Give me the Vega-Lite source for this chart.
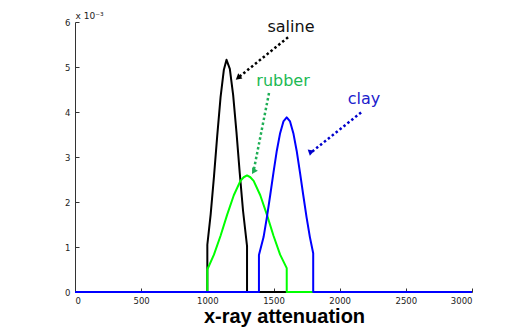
{
  "$schema": "https://vega.github.io/schema/vega-lite/v6.json",
  "width": 397,
  "height": 270,
  "autosize": {"type": "none"},
  "padding": {"left": 75, "top": 22, "right": 34, "bottom": 35},
  "background": "white",
  "config": {
    "view": {"stroke": null},
    "axis": {
      "grid": false,
      "labelFont": "DejaVu Sans",
      "labelFontSize": 8.5,
      "labelColor": "#222",
      "domainColor": "#333",
      "tickColor": "#333",
      "tickSize": -4,
      "domainWidth": 1
    }
  },
  "datasets": {
    "curves": [
      {"s": "saline", "i": 0, "x": 0, "y": 0},
      {"s": "saline", "i": 1, "x": 1000, "y": 0},
      {"s": "saline", "i": 2, "x": 1000, "y": 1.05},
      {"s": "saline", "i": 3, "x": 1025, "y": 1.72},
      {"s": "saline", "i": 4, "x": 1050, "y": 2.56},
      {"s": "saline", "i": 5, "x": 1075, "y": 3.48},
      {"s": "saline", "i": 6, "x": 1100, "y": 4.33},
      {"s": "saline", "i": 7, "x": 1125, "y": 4.94},
      {"s": "saline", "i": 8, "x": 1145, "y": 5.16},
      {"s": "saline", "i": 9, "x": 1170, "y": 4.96},
      {"s": "saline", "i": 10, "x": 1195, "y": 4.38},
      {"s": "saline", "i": 11, "x": 1220, "y": 3.56},
      {"s": "saline", "i": 12, "x": 1245, "y": 2.64},
      {"s": "saline", "i": 13, "x": 1270, "y": 1.80},
      {"s": "saline", "i": 14, "x": 1300, "y": 1.02},
      {"s": "saline", "i": 15, "x": 1300, "y": 0},
      {"s": "saline", "i": 16, "x": 3000, "y": 0},
      {"s": "rubber", "i": 0, "x": 0, "y": 0},
      {"s": "rubber", "i": 1, "x": 1000, "y": 0},
      {"s": "rubber", "i": 2, "x": 1000, "y": 0.50},
      {"s": "rubber", "i": 3, "x": 1050, "y": 0.83},
      {"s": "rubber", "i": 4, "x": 1100, "y": 1.25},
      {"s": "rubber", "i": 5, "x": 1150, "y": 1.72},
      {"s": "rubber", "i": 6, "x": 1200, "y": 2.15},
      {"s": "rubber", "i": 7, "x": 1250, "y": 2.47},
      {"s": "rubber", "i": 8, "x": 1275, "y": 2.55},
      {"s": "rubber", "i": 9, "x": 1300, "y": 2.59},
      {"s": "rubber", "i": 10, "x": 1325, "y": 2.55},
      {"s": "rubber", "i": 11, "x": 1350, "y": 2.47},
      {"s": "rubber", "i": 12, "x": 1400, "y": 2.15},
      {"s": "rubber", "i": 13, "x": 1450, "y": 1.72},
      {"s": "rubber", "i": 14, "x": 1500, "y": 1.25},
      {"s": "rubber", "i": 15, "x": 1550, "y": 0.83},
      {"s": "rubber", "i": 16, "x": 1600, "y": 0.53},
      {"s": "rubber", "i": 17, "x": 1600, "y": 0},
      {"s": "rubber", "i": 18, "x": 3000, "y": 0},
      {"s": "clay", "i": 0, "x": 0, "y": 0},
      {"s": "clay", "i": 1, "x": 1390, "y": 0},
      {"s": "clay", "i": 2, "x": 1390, "y": 0.82},
      {"s": "clay", "i": 3, "x": 1425, "y": 1.22},
      {"s": "clay", "i": 4, "x": 1450, "y": 1.66},
      {"s": "clay", "i": 5, "x": 1475, "y": 2.15},
      {"s": "clay", "i": 6, "x": 1500, "y": 2.66},
      {"s": "clay", "i": 7, "x": 1525, "y": 3.14},
      {"s": "clay", "i": 8, "x": 1550, "y": 3.53},
      {"s": "clay", "i": 9, "x": 1575, "y": 3.79},
      {"s": "clay", "i": 10, "x": 1600, "y": 3.88},
      {"s": "clay", "i": 11, "x": 1625, "y": 3.79},
      {"s": "clay", "i": 12, "x": 1650, "y": 3.53},
      {"s": "clay", "i": 13, "x": 1675, "y": 3.14},
      {"s": "clay", "i": 14, "x": 1700, "y": 2.66},
      {"s": "clay", "i": 15, "x": 1725, "y": 2.15},
      {"s": "clay", "i": 16, "x": 1750, "y": 1.66},
      {"s": "clay", "i": 17, "x": 1775, "y": 1.22},
      {"s": "clay", "i": 18, "x": 1800, "y": 0.86},
      {"s": "clay", "i": 19, "x": 1800, "y": 0},
      {"s": "clay", "i": 20, "x": 3000, "y": 0}
    ],
    "notes": [
      {"name": "saline", "tx": 1632, "ty": 5.88, "x1": 1610, "y1": 5.66, "x2": 1232, "y2": 4.76},
      {"name": "rubber", "tx": 1572, "ty": 4.68, "x1": 1466, "y1": 4.42, "x2": 1349, "y2": 2.68},
      {"name": "clay", "tx": 2184, "ty": 4.30, "x1": 2162, "y1": 3.99, "x2": 1779, "y2": 3.09}
    ]
  },
  "layer": [
    {
      "data": {"name": "curves"},
      "mark": {"type": "line", "strokeWidth": 2, "strokeJoin": "round"},
      "encoding": {
        "x": {
          "field": "x", "type": "quantitative",
          "scale": {"domain": [0, 3000], "nice": false},
          "axis": {
            "values": [0, 500, 1000, 1500, 2000, 2500, 3000],
            "format": "d",
            "labelPadding": 8,
            "title": "x-ray attenuation",
            "titleFont": "Liberation Sans",
            "titleFontSize": 20,
            "titleFontWeight": "bold",
            "titleColor": "black",
            "titleX": 209,
            "titleY": 30,
            "titleBaseline": "alphabetic"
          }
        },
        "y": {
          "field": "y", "type": "quantitative",
          "scale": {"domain": [0, 6], "nice": false},
          "axis": {
            "values": [0, 1, 2, 3, 4, 5, 6],
            "labelPadding": 9,
            "title": "x 10⁻³",
            "titleFont": "DejaVu Sans",
            "titleFontSize": 9,
            "titleFontWeight": "normal",
            "titleColor": "#222",
            "titleAngle": 0,
            "titleAlign": "left",
            "titleBaseline": "alphabetic",
            "titleX": 0,
            "titleY": -4
          }
        },
        "color": {
          "field": "s", "type": "nominal",
          "scale": {"domain": ["saline", "rubber", "clay"], "range": ["#000000", "#00ff00", "#0000ff"]},
          "legend": null
        },
        "order": {"field": "i", "type": "quantitative"}
      }
    },
    {
      "data": {"name": "notes"},
      "mark": {"type": "rule", "strokeWidth": 2.5, "strokeDash": [2.5, 2.5]},
      "encoding": {
        "x": {"field": "x1", "type": "quantitative"},
        "y": {"field": "y1", "type": "quantitative"},
        "x2": {"field": "x2"},
        "y2": {"field": "y2"},
        "color": {
          "field": "name", "type": "nominal",
          "scale": {"domain": ["saline", "rubber", "clay"], "range": ["#000000", "#1fae55", "#0000cc"]},
          "legend": null
        }
      }
    },
    {
      "data": {"name": "notes"},
      "mark": {"type": "point", "shape": "triangle-up", "filled": true, "size": 45, "opacity": 1},
      "encoding": {
        "x": {"field": "x2", "type": "quantitative"},
        "y": {"field": "y2", "type": "quantitative"},
        "angle": {
          "field": "name", "type": "nominal",
          "scale": {"domain": ["saline", "rubber", "clay"], "range": [231, 191, 231]}
        },
        "color": {
          "field": "name", "type": "nominal",
          "scale": {"domain": ["saline", "rubber", "clay"], "range": ["#000000", "#1fae55", "#0000cc"]},
          "legend": null
        }
      }
    },
    {
      "data": {"name": "notes"},
      "mark": {"type": "text", "font": "DejaVu Sans", "fontSize": 16, "baseline": "middle", "align": "center"},
      "encoding": {
        "x": {"field": "tx", "type": "quantitative"},
        "y": {"field": "ty", "type": "quantitative"},
        "text": {"field": "name"},
        "color": {
          "field": "name", "type": "nominal",
          "scale": {"domain": ["saline", "rubber", "clay"], "range": ["#111111", "#1db954", "#2020cc"]},
          "legend": null
        }
      }
    }
  ],
  "resolve": {"scale": {"color": "independent"}}
}
